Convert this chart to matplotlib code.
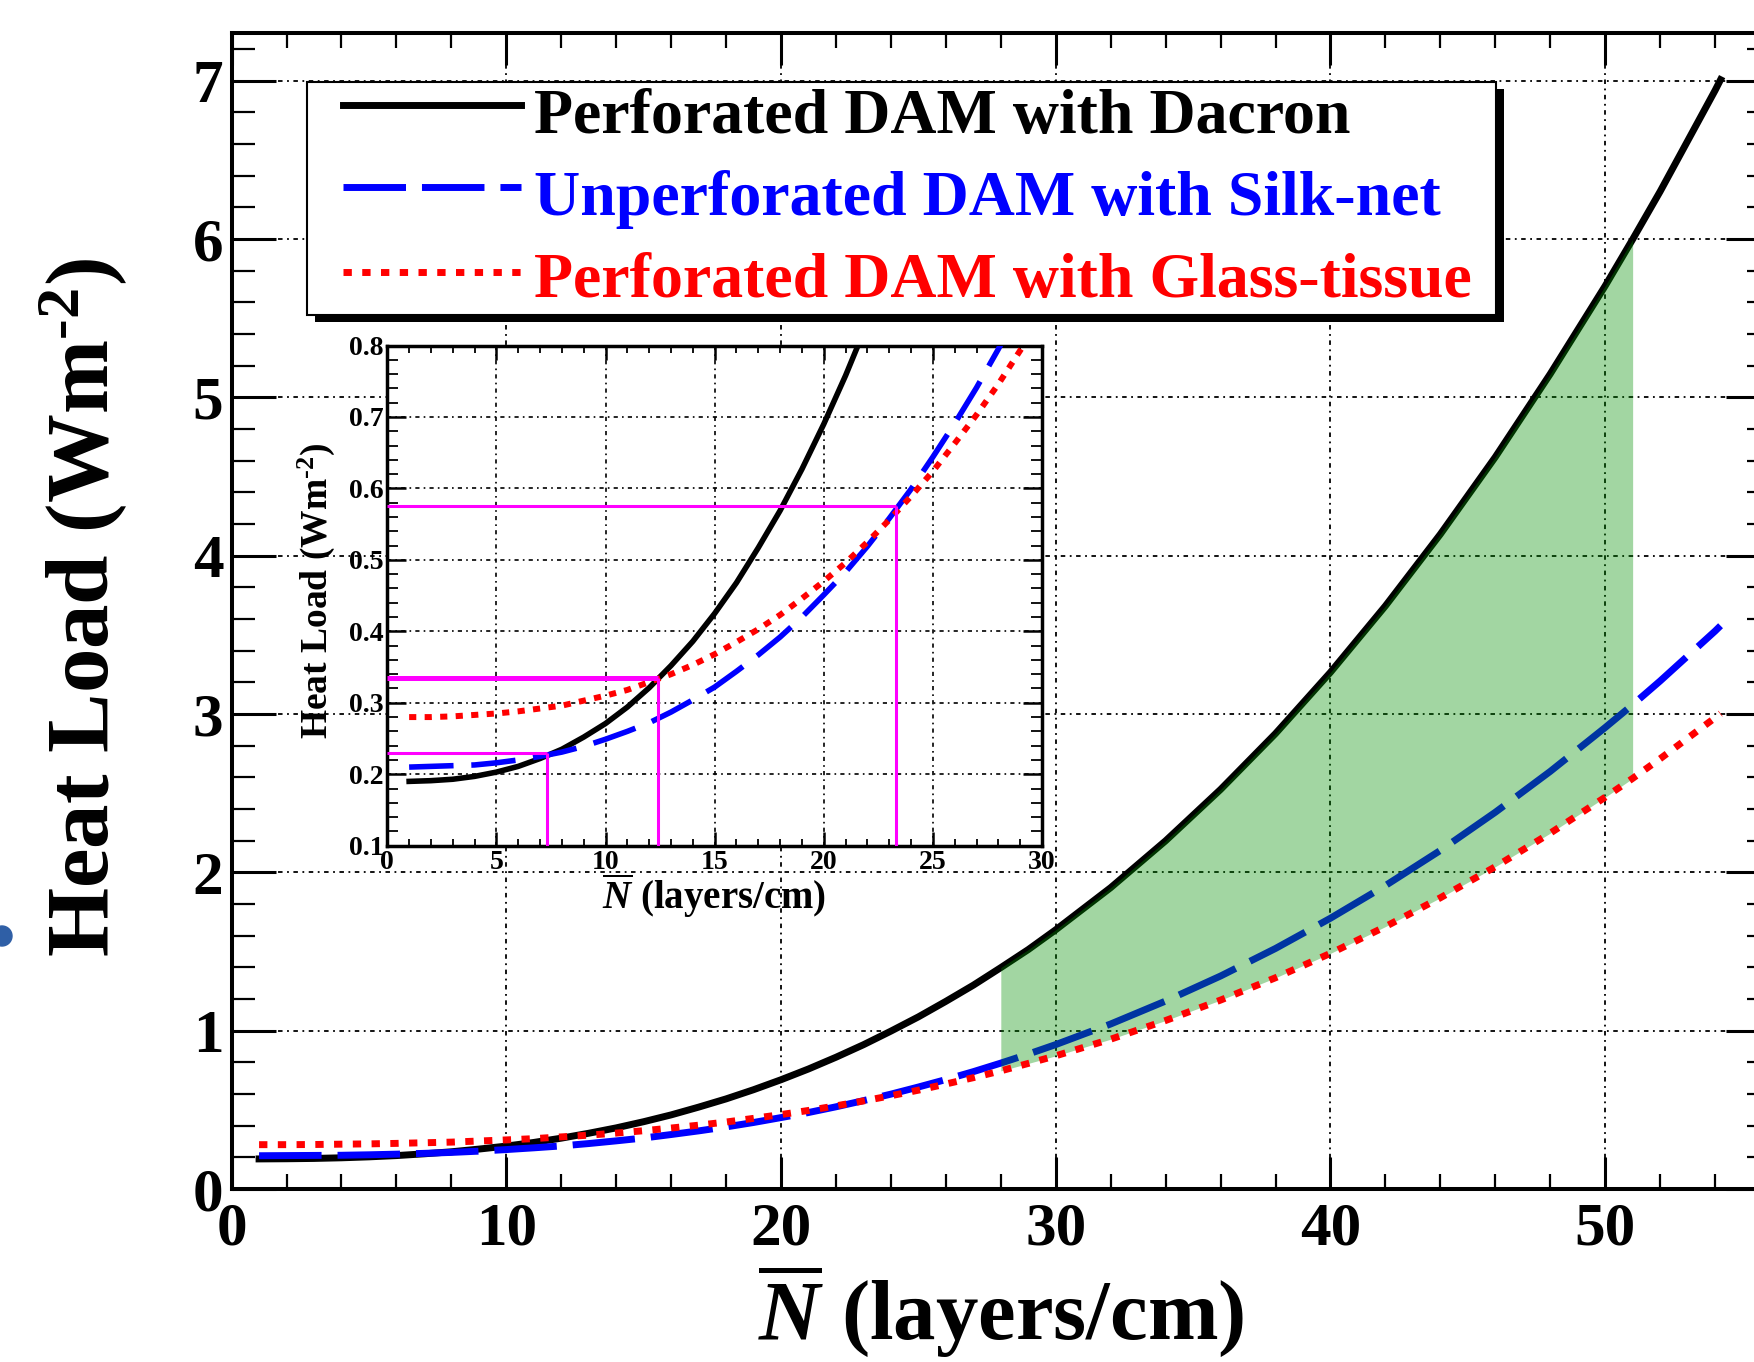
import matplotlib
matplotlib.use("Agg")
import matplotlib.pyplot as plt
from matplotlib.ticker import MultipleLocator
from matplotlib.patches import Rectangle, Ellipse
from matplotlib.lines import Line2D

# ---------------- data ----------------
labels = ["Perforated DAM with Dacron",
          "Unperforated DAM with Silk-net",
          "Perforated DAM with Glass-tissue"]

n_layers = [1, 2, 3, 4, 5, 6, 7, 8, 9, 10, 11, 12, 13, 14, 15, 16, 17, 18, 19, 20,
            21, 22, 23, 24, 25, 26, 27, 28, 29, 30, 32, 34, 36, 38, 40, 42, 44, 46,
            48, 50, 51, 52, 54, 54.2]

dacron = [0.190, 0.191, 0.193, 0.197, 0.203, 0.211, 0.222, 0.235, 0.252, 0.271,
          0.294, 0.321, 0.352, 0.386, 0.425, 0.468, 0.517, 0.569, 0.627, 0.690,
          0.758, 0.832, 0.911, 0.997, 1.087, 1.185, 1.287, 1.398, 1.512, 1.637,
          1.903, 2.199, 2.523, 2.876, 3.263, 3.682, 4.135, 4.622, 5.147, 5.703,
          5.997, 6.299, 6.937, 7.005]

silknet = [0.210, 0.211, 0.212, 0.213, 0.216, 0.220, 0.225, 0.231, 0.239, 0.249,
           0.260, 0.272, 0.287, 0.304, 0.322, 0.344, 0.367, 0.392, 0.420, 0.451,
           0.483, 0.519, 0.558, 0.599, 0.644, 0.691, 0.741, 0.795, 0.852, 0.912,
           1.042, 1.187, 1.345, 1.519, 1.710, 1.916, 2.138, 2.379, 2.637, 2.914,
           3.058, 3.208, 3.523, 3.557]

glasstissue = [0.280, 0.280, 0.281, 0.283, 0.285, 0.288, 0.292, 0.296, 0.303, 0.310,
               0.318, 0.329, 0.340, 0.353, 0.368, 0.385, 0.403, 0.423, 0.446, 0.470,
               0.496, 0.525, 0.556, 0.589, 0.624, 0.663, 0.703, 0.746, 0.793, 0.841,
               0.946, 1.064, 1.193, 1.334, 1.488, 1.657, 1.839, 2.035, 2.247, 2.474,
               2.593, 2.717, 2.976, 3.003]

band_range = [28, 51]                 # shaded region (layers/cm)
cross_x = [7.3, 12.4, 23.3]           # crossing points in the inset
cross_y = [0.23, 0.335, 0.575]

# ---------------- style ----------------
plt.rcParams.update({
    "font.family": ["Liberation Serif", "DejaVu Serif"],
    "font.weight": "bold",
    "axes.labelweight": "bold",
    "mathtext.fontset": "custom",
    "mathtext.rm": "Liberation Serif:bold",
    "mathtext.it": "Liberation Serif:italic:bold",
    "mathtext.bf": "Liberation Serif:bold",
})

W, H = 1754, 1362
fig = plt.figure(figsize=(W / 100, H / 100), dpi=100)


def fx(px):
    return px / W


def fy(py):
    return 1 - py / H


colors = ["#000000", "#0000ff", "#ff0000"]
grid_ls = (0, (2.5, 2.5, 1, 2.5))
ylab = r"Heat Load (Wm$^{\text{-2}}$)"
xlab = r"$\overline{N}$ (layers/cm)"

# ---------------- main axes ----------------
ax = fig.add_axes([fx(231.6), fy(1189), (1770 - 231.6) / W, (1189 - 33) / H])
ax.plot(n_layers, dacron, color=colors[0], lw=5, zorder=3, label=labels[0])
ax.plot(n_layers, silknet, color=colors[1], lw=5, ls=(0, (9, 2.3)), zorder=3,
        label=labels[1])
mask = [band_range[0] <= v <= band_range[1] for v in n_layers]
ax.fill_between(n_layers, glasstissue, dacron, where=mask, color=(0, 0.57, 0),
                alpha=0.365, lw=0, zorder=4)
ax.plot(n_layers, glasstissue, color=colors[2], lw=5, ls=(0, (1.2, 1.5)), zorder=5,
        label=labels[2])

ax.set_xlim(0, 56)
ax.set_ylim(0, 7.3)
ax.xaxis.set_major_locator(MultipleLocator(10))
ax.xaxis.set_minor_locator(MultipleLocator(2))
ax.yaxis.set_major_locator(MultipleLocator(1))
ax.yaxis.set_minor_locator(MultipleLocator(0.2))
ax.grid(True, which="major", color="k", lw=1.3, ls=grid_ls)
ax.tick_params(which="both", direction="in", top=True, right=True)
ax.tick_params(axis="x", which="major", length=23, width=2.2, pad=9, labelsize=44)
ax.tick_params(axis="x", which="minor", length=11, width=1.6)
ax.tick_params(axis="y", which="major", length=32, width=2.2, pad=6, labelsize=44)
ax.tick_params(axis="y", which="minor", length=16.5, width=1.6)
for s in ax.spines.values():
    s.set_linewidth(2.9)

ax.set_xlabel(xlab, fontsize=61, va="baseline")
ax.xaxis.set_label_coords(0.5, (1189 - 1340) / 1156)
ax.set_ylabel(ylab, fontsize=64, va="baseline")
ax.yaxis.set_label_coords(-0.0803, 0.5035)

# ---------------- legend (ROOT-like box with hard shadow) ----------------
lx0, lx1, ly0, ly1 = 307, 1496, 82, 315
fig.add_artist(Rectangle((fx(lx0 + 8), fy(ly1 + 7)), (lx1 - lx0) / W, (ly1 - ly0) / H,
                         transform=fig.transFigure, facecolor="k", edgecolor="none",
                         zorder=1))
fig.add_artist(Rectangle((fx(lx0), fy(ly1)), (lx1 - lx0) / W, (ly1 - ly0) / H,
                         transform=fig.transFigure, facecolor="white", edgecolor="k",
                         lw=1.5, zorder=1.1))
handle_styles = ["-", (0, (9, 2.3)), (0, (1.2, 1.5))]
row_line_y = [105, 187, 272]
row_text_y = [133, 215, 297]
for lab, col, st, yl, yt in zip(labels, colors, handle_styles, row_line_y, row_text_y):
    fig.add_artist(Line2D([fx(343), fx(521)], [fy(yl), fy(yl)], transform=fig.transFigure,
                          color=col, lw=5, ls=st, zorder=1.2))
    fig.text(fx(534), fy(yt), lab, color=col, fontsize=46, va="baseline", zorder=1.2)

# ---------------- inset ----------------
axi = fig.add_axes([fx(387.3), fy(845.7), (1042 - 387.3) / W, (845.7 - 345.5) / H])
axi.set_zorder(2)
axi.plot(n_layers, dacron, color=colors[0], lw=4.0, zorder=3)
axi.plot(n_layers, silknet, color=colors[1], lw=4.0, ls=(0, (8.0, 3.2)), zorder=3)
axi.plot(n_layers, glasstissue, color=colors[2], lw=4.3, ls=(0, (1.2, 1.4)), zorder=3)
axi.hlines(cross_y, 0, cross_x, colors="#ff00ff", linewidths=[2.2, 3.6, 2.2], zorder=4)
axi.vlines(cross_x, 0.1, cross_y, colors="#ff00ff", linewidths=2.2, zorder=4)

axi.set_xlim(0, 30)
axi.set_ylim(0.1, 0.8)
axi.xaxis.set_major_locator(MultipleLocator(5))
axi.xaxis.set_minor_locator(MultipleLocator(1))
axi.yaxis.set_major_locator(MultipleLocator(0.1))
axi.yaxis.set_minor_locator(MultipleLocator(0.02))
axi.grid(True, which="major", color="k", lw=1.2, ls=grid_ls)
axi.tick_params(which="both", direction="in", top=True, right=True)
axi.tick_params(axis="x", which="major", length=10, width=1.8, pad=3, labelsize=20)
axi.tick_params(axis="x", which="minor", length=5, width=1.3)
axi.tick_params(axis="y", which="major", length=14, width=1.8, pad=3, labelsize=20)
axi.tick_params(axis="y", which="minor", length=8, width=1.3)
for s in axi.spines.values():
    s.set_linewidth(2.5)
axi.set_xlabel(xlab, fontsize=28, va="baseline")
axi.xaxis.set_label_coords(0.499, -0.1266)
axi.set_ylabel(ylab, fontsize=27, va="baseline")
axi.yaxis.set_label_coords(-0.092, 0.509)

# small cropped marker at the left edge of the original picture
fig.add_artist(Ellipse((fx(2), fy(936)), 20 / W, 20 / H, transform=fig.transFigure,
                       color="#2f5fa6", zorder=1))

fig.savefig("out.png", dpi=100)
